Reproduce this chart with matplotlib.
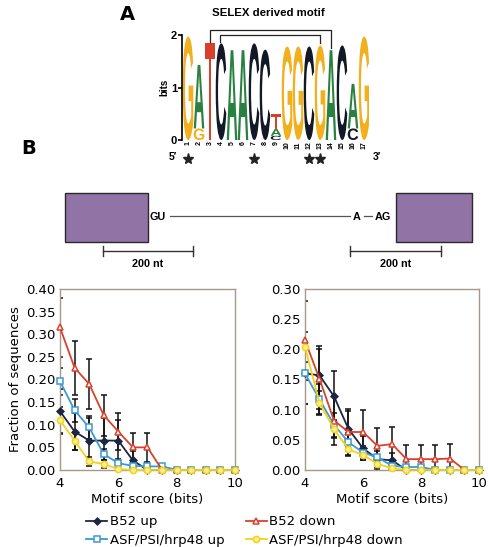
import numpy as np
import matplotlib
matplotlib.use("Agg")
import matplotlib.pyplot as plt
from matplotlib.textpath import TextPath
from matplotlib.patches import PathPatch, Rectangle
from matplotlib.font_manager import FontProperties
from matplotlib.transforms import Affine2D

# --- Panel A: SELEX logo (letters stacked bottom -> top, heights in bits) ---
logo_letters = ["G", "GA", "T", "C", "A", "A", "C", "C", "CAT", "G", "G", "C", "G", "A", "C", "CA", "G"]
logo_heights = [[1.97], [0.22, 1.21], [1.85], [1.84], [1.71], [1.71], [1.84], [1.72],
                [0.08, 0.13, 0.28], [1.78], [1.78], [1.78], [1.80], [1.71], [1.80],
                [0.22, 0.85], [1.97]]
star_positions = [1, 7, 12, 13]
letter_colors = {"G": "#F2B01E", "A": "#2A8040", "C": "#121826", "T": "#D8402A"}

# --- Panel B: fraction of sequences vs motif score ---
score = [4, 4.5, 5, 5.5, 6, 6.5, 7, 7.5, 8, 8.5, 9, 9.5, 10]

b52_up_L = [0.130, 0.085, 0.065, 0.065, 0.065, 0.021, 0.0, 0, 0, 0, 0, 0, 0]
b52_up_L_err = [0.048, 0.04, 0.05, 0.05, 0.045, 0.02, 0, 0, 0, 0, 0, 0, 0]
b52_dn_L = [0.315, 0.226, 0.190, 0.121, 0.085, 0.050, 0.050, 0, 0, 0, 0, 0, 0]
b52_dn_L_err = [0.065, 0.06, 0.055, 0.045, 0.04, 0.032, 0.032, 0, 0, 0, 0, 0, 0]
asf_up_L = [0.196, 0.132, 0.094, 0.035, 0.015, 0.009, 0.008, 0.008, 0, 0, 0, 0, 0]
asf_up_L_err = [0.03, 0.025, 0.025, 0.012, 0.01, 0.006, 0.005, 0.005, 0, 0, 0, 0, 0]
asf_dn_L = [0.110, 0.065, 0.019, 0.013, 0.002, 0.0, 0, 0, 0, 0, 0, 0, 0]
asf_dn_L_err = [0.03, 0.02, 0.01, 0.008, 0.002, 0, 0, 0, 0, 0, 0, 0, 0]

b52_up_R = [0.160, 0.157, 0.122, 0.068, 0.036, 0.018, 0.016, 0, 0, 0, 0, 0, 0]
b52_up_R_err = [0.05, 0.048, 0.042, 0.03, 0.02, 0.018, 0.012, 0, 0, 0, 0, 0, 0]
b52_dn_R = [0.215, 0.151, 0.082, 0.063, 0.063, 0.040, 0.043, 0.018, 0.018, 0.018, 0.019, 0, 0]
b52_dn_R_err = [0.065, 0.05, 0.04, 0.038, 0.036, 0.03, 0.028, 0.024, 0.024, 0.024, 0.024, 0, 0]
asf_up_R = [0.160, 0.117, 0.075, 0.046, 0.029, 0.021, 0.007, 0.005, 0.005, 0, 0, 0, 0]
asf_up_R_err = [0.05, 0.025, 0.02, 0.015, 0.01, 0.01, 0.005, 0.004, 0.004, 0, 0, 0, 0]
asf_dn_R = [0.204, 0.111, 0.068, 0.034, 0.025, 0.010, 0.003, 0, 0, 0, 0, 0, 0]
asf_dn_R_err = [0.025, 0.02, 0.015, 0.01, 0.008, 0.006, 0.003, 0, 0, 0, 0, 0, 0]

W, H = 489, 547
fig = plt.figure(figsize=(W / 100, H / 100), dpi=100)
plt.rcParams["font.family"] = "DejaVu Sans"

# overlay in pixel coords for schematic + labels
ov = fig.add_axes([0, 0, 1, 1], zorder=0)
ov.set_xlim(0, W)
ov.set_ylim(H, 0)
ov.axis("off")

ov.text(127, 14, "A", fontsize=14, fontweight="bold", ha="center", va="center")
ov.text(29, 148, "B", fontsize=14, fontweight="bold", ha="center", va="center")
ov.text(268, 13, "SELEX derived motif", fontsize=8.2, fontweight="bold",
        ha="center", va="center", family="Liberation Sans")

# schematic: exons, intron, scale bars
purple = "#9173A5"
ov.add_patch(Rectangle((65, 193), 83, 49, facecolor=purple, edgecolor="#2a2a2a", lw=1))
ov.add_patch(Rectangle((396, 193), 76, 49, facecolor=purple, edgecolor="#2a2a2a", lw=1))
ov.plot([170, 350], [216, 216], color="#555555", lw=0.9)
ov.plot([364, 372], [216, 216], color="#555555", lw=0.9)
sch_font = dict(fontsize=7.8, fontweight="bold", va="center", family="Liberation Sans")
ov.text(150, 217, "GU", ha="left", **sch_font)
ov.text(357, 217, "A", ha="center", **sch_font)
ov.text(375, 217, "AG", ha="left", **sch_font)
for x0, x1 in [(103, 193), (350, 441)]:
    ov.plot([x0, x1], [251, 251], color="#333333", lw=1)
    ov.plot([x0, x0], [246, 256], color="#333333", lw=1)
    ov.plot([x1, x1], [246, 256], color="#333333", lw=1)
    ov.text((x0 + x1) / 2, 264, "200 nt", ha="center", **sch_font)

# --- logo axes ---
lx0, lx1, ly0, ly1 = 182.5, 369.5, 140, 35
axl = fig.add_axes([lx0 / W, 1 - ly0 / H, (lx1 - lx0) / W, (ly0 - ly1) / H])
axl.set_xlim(0.5, len(logo_letters) + 0.5)
axl.set_ylim(0, 2)
fp = FontProperties(family="Liberation Sans", weight="bold")


def draw_letter(ax, ch, x, y, w, h, color):
    tp = TextPath((0, 0), ch, size=1, prop=fp)
    bb = tp.get_extents()
    tr = (Affine2D().translate(-bb.x0, -bb.y0)
          .scale(w / bb.width, h / bb.height).translate(x, y))
    ax.add_patch(PathPatch(tr.transform_path(tp), facecolor=color, edgecolor="none"))


for i, (letters, heights) in enumerate(zip(logo_letters, logo_heights)):
    pos = i + 1
    base = 0
    for ch, hgt in zip(letters, heights):
        draw_letter(axl, ch, pos - 0.48, base, 0.96, hgt, letter_colors[ch])
        base += hgt

for s in ["top", "right", "bottom"]:
    axl.spines[s].set_visible(False)
axl.spines["left"].set_linewidth(1.2)
axl.set_yticks([0, 1, 2])
axl.set_yticklabels(["0", "1", "2"], fontsize=8, fontweight="bold", family="Liberation Sans")
axl.tick_params(axis="y", length=3, width=1.2, pad=1)
axl.set_ylabel("bits", fontsize=7, fontweight="bold", family="Liberation Sans", labelpad=1)
axl.set_xticks(range(1, len(logo_letters) + 1))
axl.set_xticklabels([str(p) for p in range(1, len(logo_letters) + 1)], rotation=90,
                    fontsize=5, fontweight="bold", family="Liberation Sans")
axl.tick_params(axis="x", length=0, pad=1)

# brackets
bk = dict(color="#222222", lw=0.9, clip_on=False)
axl.plot([3, 3, 14, 14], [1.87, 2.095, 2.095, 1.75], **bk)
axl.plot([3.9, 3.9, 13, 13], [1.87, 2.0, 2.0, 1.85], **bk)
axl.plot(star_positions, [-0.36] * len(star_positions), linestyle="none", marker="*",
         markersize=8, color="#222222", clip_on=False)
axl.text(-0.4, -0.33, "5′", fontsize=7.5, fontweight="bold", ha="center", va="center",
         family="Liberation Sans")
axl.text(18.2, -0.33, "3′", fontsize=7.5, fontweight="bold", ha="center", va="center",
         family="Liberation Sans")

# --- line charts ---
series_style = [
    ("B52 up", "#1E2540", "D", "#1E2540", 3.5),
    ("ASF/PSI/hrp48 up", "#3A9AD6", "s", "white", 5),
    ("B52 down", "#D8412C", "^", "white", 5),
    ("ASF/PSI/hrp48 down", "#F2D31A", "o", "#F8EE9A", 4.5),
]
left_data = [(b52_up_L, b52_up_L_err), (asf_up_L, asf_up_L_err),
             (b52_dn_L, b52_dn_L_err), (asf_dn_L, asf_dn_L_err)]
right_data = [(b52_up_R, b52_up_R_err), (asf_up_R, asf_up_R_err),
              (b52_dn_R, b52_dn_R_err), (asf_dn_R, asf_dn_R_err)]

ax1 = fig.add_axes([60 / W, 1 - 470 / H, 175 / W, 181 / H])
ax2 = fig.add_axes([305 / W, 1 - 470 / H, 174 / W, 181 / H])

frame = "#A39A8C"
handles = []
for ax, data, ymax in [(ax1, left_data, 0.40), (ax2, right_data, 0.30)]:
    # error bars first (black)
    for (vals, err) in data:
        ax.errorbar(score, vals, yerr=err, fmt="none", ecolor="#111111",
                    elinewidth=1.1, capsize=2.2, capthick=1.1, zorder=2)
    for (vals, err), (lab, col, mk, fc, ms) in zip(data, series_style):
        ln, = ax.plot(score, vals, color=col, marker=mk, markersize=ms,
                      markerfacecolor=fc, markeredgecolor=col, markeredgewidth=1.1,
                      lw=1.3, label=lab, zorder=3, clip_on=False)
        if ax is ax1:
            handles.append(ln)
    ax.set_xlim(4, 10)
    ax.set_ylim(0, ymax)
    ax.set_xticks([4, 6, 8, 10])
    ax.set_yticks(np.arange(0, ymax + 0.001, 0.05))
    ax.set_yticklabels([f"{v:.2f}" for v in np.arange(0, ymax + 0.001, 0.05)])
    ax.tick_params(labelsize=9.5, length=0, pad=3)
    ax.tick_params(axis="x", pad=5)
    for s in ax.spines.values():
        s.set_color(frame)
        s.set_linewidth(1)
    ax.set_xlabel("Motif score (bits)", fontsize=9.5, labelpad=2)

ax1.set_ylabel("Fraction of sequences", fontsize=9.5, labelpad=3)

fig.legend(handles, [st[0] for st in series_style],
           ncol=2, loc="upper center", bbox_to_anchor=(0.5, 1 - 510 / H),
           frameon=False, fontsize=9.5, handlelength=1.6, handletextpad=0.2,
           columnspacing=1.6, labelspacing=0.4, borderaxespad=0)

fig.savefig("out.png", dpi=100)
